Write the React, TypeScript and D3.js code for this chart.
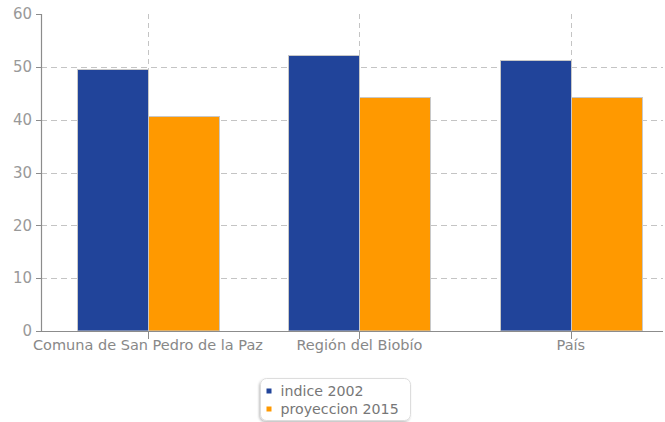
import React from "react";
import * as d3 from "d3";

const categories = ["Comuna de San Pedro de la Paz", "Región del Biobío", "País"];
const seriesNames = ["indice 2002", "proyeccion 2015"];
const indice2002 = [49.5, 52.2, 51.2];
const proyeccion2015 = [40.6, 44.2, 44.3];
const yTicks = [0, 10, 20, 30, 40, 50, 60];
const colors = ["#21449a", "#ff9900"];

const W = 665, H = 422;
const left = 41, right = 663, top = 14, bottom = 331;
const FONT = "'DejaVu Sans', Verdana, sans-serif";

export default function App() {
  const y = d3.scaleLinear().domain([0, 60]).range([bottom, top]);
  const x = d3.scaleBand<string>().domain(categories).range([left, right])
    .paddingInner(0.3286).paddingOuter(0.135).align(0.63);
  const sub = d3.scaleBand<number>().domain([0, 1]).range([0, x.bandwidth()]);
  const series = [indice2002, proyeccion2015];
  const center = (c: string) => (x(c) as number) + x.bandwidth() / 2;

  return (
    <div style={{ position: "absolute", left: 0, top: 0 }}>
      <svg width={W} height={H} style={{ display: "block" }}>
        <defs>
          <filter id="sh" x="-10%" y="-10%" width="130%" height="140%">
            <feDropShadow dx="-1" dy="1.5" stdDeviation="1.2" floodColor="#000" floodOpacity="0.25" />
          </filter>
        </defs>
        <rect width={W} height={H} fill="#fff" />
        {yTicks.filter(t => t > 0 && t < 60).map(t => (
          <line key={t} x1={left} x2={right} y1={Math.round(y(t)) + 0.5} y2={Math.round(y(t)) + 0.5}
            stroke="#c4c4c4" strokeWidth={1} strokeDasharray="6,4" />
        ))}
        {categories.map(c => (
          <line key={c} x1={Math.round(center(c)) + 0.5} x2={Math.round(center(c)) + 0.5} y1={top} y2={bottom}
            stroke="#c4c4c4" strokeWidth={1} strokeDasharray="5,4" />
        ))}
        {categories.map((c, i) => series.map((s, k) => (
          <rect key={c + k}
            x={Math.round((x(c) as number) + (sub(k) as number)) + 0.5}
            y={Math.round(y(s[i])) + 0.5}
            width={Math.round(sub.bandwidth())}
            height={bottom - Math.round(y(s[i])) - 0.5}
            fill={colors[k]} stroke="#c8c8c8" strokeWidth={1} />
        )))}
        <line x1={left + 0.5} x2={left + 0.5} y1={top} y2={bottom + 0.5} stroke="#8c8c8c" strokeWidth={1.2} />
        <line x1={left} x2={right} y1={bottom + 0.5} y2={bottom + 0.5} stroke="#8c8c8c" strokeWidth={1.2} />
        {yTicks.map(t => (
          <g key={t}>
            <line x1={left - 5} x2={left} y1={Math.round(y(t)) + 0.5} y2={Math.round(y(t)) + 0.5} stroke="#8c8c8c" />
            <text x={32} y={y(t)} dy="0.35em" textAnchor="end" fontFamily={FONT} fontSize={15} fill="#999">{t}</text>
          </g>
        ))}
        {categories.map(c => (
          <g key={c}>
            <line x1={Math.round(center(c)) + 0.5} x2={Math.round(center(c)) + 0.5} y1={bottom} y2={bottom + 8} stroke="#8c8c8c" />
            <text x={center(c)} y={bottom + 19} textAnchor="middle" fontFamily={FONT} fontSize={14.5} fill="#888">{c}</text>
          </g>
        ))}
        <g transform="translate(260.5,378.5)">
          <rect width={150} height={42} rx={6} fill="#fff" stroke="#ddd" filter="url(#sh)" />
          {seriesNames.map((n, k) => (
            <g key={n} transform={`translate(0,${k * 18})`}>
              <rect x={6} y={10} width={5} height={5} fill={colors[k]} />
              <text x={20} y={12.5} dy="0.35em" fontFamily={FONT} fontSize={14.2} fill="#777">{n}</text>
            </g>
          ))}
        </g>
      </svg>
    </div>
  );
}
